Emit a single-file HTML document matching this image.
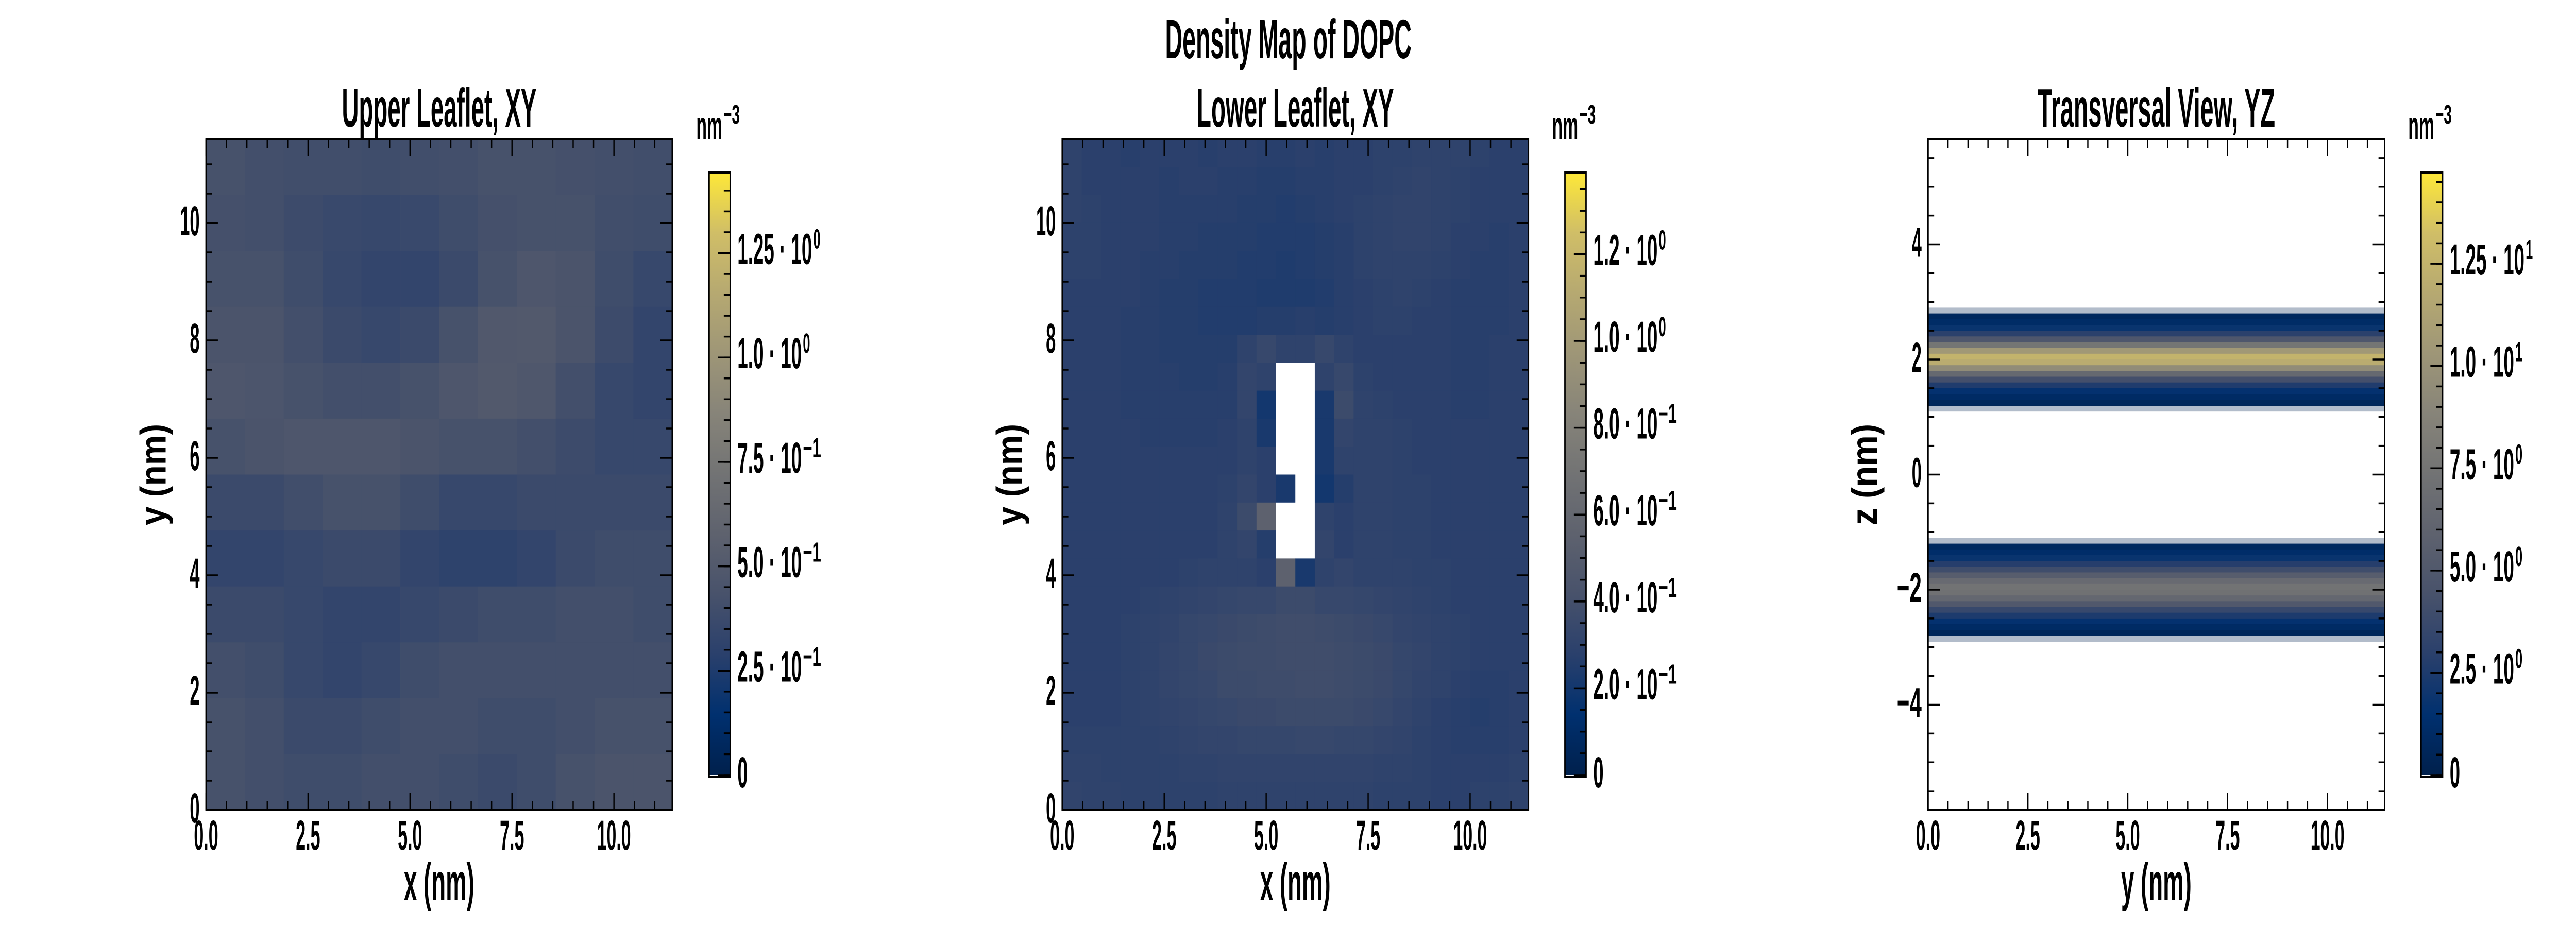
<!DOCTYPE html>
<html><head><meta charset="utf-8">
<style>
html,body{margin:0;padding:0;background:#fff;overflow:hidden;width:100%;height:100%;}
svg{display:block;width:100vw;height:100vh;}
text{font-family:"Liberation Sans Narrow","Liberation Sans",sans-serif;font-weight:bold;fill:#000;}
</style></head>
<body>
<svg id="fig" xmlns="http://www.w3.org/2000/svg" viewBox="0 0 7200 1800" preserveAspectRatio="none">
<rect x="0" y="0" width="7200" height="1800" fill="#fff"/>
<defs>
<linearGradient id="cividis" x1="0" y1="1" x2="0" y2="0">
<stop offset="0" stop-color="#00204c"/><stop offset="0.1" stop-color="#00306f"/><stop offset="0.2" stop-color="#2a406c"/><stop offset="0.3" stop-color="#48526b"/><stop offset="0.4" stop-color="#5e626e"/><stop offset="0.5" stop-color="#727374"/><stop offset="0.6" stop-color="#878479"/><stop offset="0.7" stop-color="#9e9677"/><stop offset="0.8" stop-color="#b6a971"/><stop offset="0.9" stop-color="#d0be67"/><stop offset="1" stop-color="#fee838"/>
</linearGradient>
</defs>
</svg>
<script>
// ---------- data ----------
// Upper leaflet coarse density grid (12x12, top row first), nm^-3
const upperRow0 = [.43,.41,.40,.40,.39,.40,.41,.43,.43,.42,.41,.40];
const upperRow1 = [.42,.41,.38,.36,.35,.36,.39,.42,.43,.43,.40,.39];
const upperRow2 = [.43,.43,.39,.35,.33,.33,.37,.43,.47,.45,.39,.35];
const upperRow3 = [.45,.45,.41,.37,.35,.37,.43,.49,.50,.45,.38,.33];
const upperRow4 = [.47,.46,.43,.41,.41,.43,.47,.50,.48,.41,.35,.33];
const upperRow5 = [.43,.45,.47,.47,.47,.45,.43,.43,.41,.38,.35,.35];
const upperRow6 = [.37,.37,.40,.43,.43,.39,.35,.35,.37,.37,.37,.37];
const upperRow7 = [.33,.33,.35,.37,.37,.33,.31,.31,.33,.37,.39,.39];
const upperRow8 = [.37,.37,.35,.33,.33,.35,.37,.39,.39,.41,.41,.39];
const upperRow9 = [.41,.39,.35,.33,.35,.39,.41,.41,.41,.41,.41,.41];
const upperRow10 = [.43,.41,.37,.37,.39,.41,.41,.39,.39,.41,.43,.43];
const upperRow11 = [.43,.41,.39,.39,.41,.41,.39,.37,.39,.43,.45,.45];
const upperGrid = [upperRow0,upperRow1,upperRow2,upperRow3,upperRow4,upperRow5,upperRow6,upperRow7,upperRow8,upperRow9,upperRow10,upperRow11];

// Lower leaflet coarse density grid (24x24, top row first), -1 = empty
const lowerRow0 = [.30,.28,.28,.27,.28,.28,.28,.27,.28,.28,.27,.27,.28,.27,.28,.28,.29,.29,.30,.30,.30,.29,.28,.28];
const lowerRow1 = [.30,.28,.28,.28,.28,.27,.28,.28,.27,.27,.26,.26,.27,.27,.28,.28,.29,.30,.31,.30,.29,.28,.28,.28];
const lowerRow2 = [.30,.29,.28,.28,.28,.27,.27,.27,.27,.26,.26,.25,.26,.27,.28,.29,.30,.31,.31,.30,.29,.28,.28,.28];
const lowerRow3 = [.29,.29,.28,.28,.28,.27,.27,.26,.26,.26,.25,.25,.25,.26,.27,.29,.30,.31,.31,.30,.28,.28,.27,.28];
const lowerRow4 = [.29,.29,.28,.28,.27,.27,.26,.26,.26,.25,.25,.24,.25,.26,.27,.29,.30,.30,.30,.29,.28,.27,.27,.28];
const lowerRow5 = [.28,.28,.28,.28,.27,.26,.26,.25,.25,.25,.24,.24,.24,.25,.27,.28,.29,.30,.29,.28,.27,.27,.27,.28];
const lowerRow6 = [.28,.28,.28,.27,.27,.26,.26,.25,.25,.25,.26,.26,.27,.26,.27,.28,.29,.29,.28,.28,.27,.27,.27,.28];
const lowerRow7 = [.28,.28,.28,.27,.27,.26,.26,.26,.26,.30,.34,.30,.30,.34,.30,.28,.28,.28,.28,.28,.27,.27,.28,.28];
const lowerRow8 = [.28,.28,.28,.27,.27,.27,.26,.26,.27,.32,.30,-1,-1,.30,.34,.29,.28,.28,.28,.28,.27,.27,.28,.28];
const lowerRow9 = [.28,.28,.28,.27,.27,.27,.27,.27,.27,.32,.20,-1,-1,.22,.36,.30,.29,.28,.28,.28,.27,.27,.28,.28];
const lowerRow10 = [.28,.28,.28,.28,.27,.27,.27,.27,.28,.30,.22,-1,-1,.22,.32,.30,.30,.29,.28,.28,.28,.28,.28,.28];
const lowerRow11 = [.28,.28,.28,.28,.28,.28,.28,.28,.28,.30,.28,-1,-1,.22,.30,.30,.30,.29,.28,.28,.28,.28,.28,.28];
const lowerRow12 = [.28,.28,.28,.28,.28,.28,.28,.28,.29,.32,.28,.22,-1,.20,.26,.30,.30,.29,.29,.28,.28,.28,.28,.28];
const lowerRow13 = [.28,.28,.28,.28,.28,.28,.28,.28,.30,.36,.55,-1,-1,.30,.28,.30,.30,.29,.29,.28,.28,.28,.28,.28];
const lowerRow14 = [.28,.28,.28,.28,.28,.28,.28,.28,.30,.32,.26,-1,-1,.32,.28,.30,.30,.29,.29,.28,.28,.28,.28,.28];
const lowerRow15 = [.28,.28,.28,.28,.28,.28,.29,.30,.30,.30,.28,.55,.22,.30,.32,.30,.30,.30,.29,.29,.28,.28,.28,.28];
const lowerRow16 = [.28,.28,.28,.28,.29,.30,.31,.32,.33,.34,.34,.36,.36,.34,.34,.33,.32,.31,.30,.29,.28,.28,.28,.28];
const lowerRow17 = [.28,.28,.28,.29,.30,.31,.33,.34,.35,.36,.37,.38,.38,.37,.36,.35,.34,.32,.31,.30,.29,.28,.28,.28];
const lowerRow18 = [.28,.28,.28,.29,.30,.32,.33,.35,.36,.37,.37,.38,.38,.38,.37,.36,.35,.33,.32,.30,.29,.28,.28,.28];
const lowerRow19 = [.28,.28,.28,.29,.30,.32,.33,.34,.36,.36,.37,.37,.38,.38,.37,.36,.35,.33,.31,.30,.28,.27,.27,.28];
const lowerRow20 = [.28,.28,.28,.29,.30,.31,.32,.33,.34,.35,.35,.36,.36,.36,.36,.35,.34,.32,.30,.28,.27,.26,.27,.28];
const lowerRow21 = [.29,.29,.29,.29,.29,.30,.31,.32,.32,.33,.33,.33,.34,.34,.33,.33,.32,.31,.29,.28,.27,.27,.27,.28];
const lowerRow22 = [.30,.30,.29,.29,.29,.29,.30,.30,.31,.31,.31,.31,.31,.31,.31,.31,.30,.30,.29,.28,.28,.28,.28,.29];
const lowerRow23 = [.31,.30,.30,.29,.29,.29,.29,.29,.30,.30,.30,.30,.30,.30,.30,.30,.29,.29,.29,.28,.28,.29,.29,.30];
const lowerGrid = [lowerRow0,lowerRow1,lowerRow2,lowerRow3,lowerRow4,lowerRow5,lowerRow6,lowerRow7,lowerRow8,lowerRow9,lowerRow10,lowerRow11,lowerRow12,lowerRow13,lowerRow14,lowerRow15,lowerRow16,lowerRow17,lowerRow18,lowerRow19,lowerRow20,lowerRow21,lowerRow22,lowerRow23];

// Transversal (YZ) density profile along z (bin centers, nm) – uniform along y
const zBins = [2.85,2.75,2.65,2.55,2.45,2.35,2.25,2.15,2.05,1.95,1.85,1.75,1.65,1.55,1.45,1.35,1.25,1.15,
               -1.15,-1.25,-1.35,-1.45,-1.55,-1.65,-1.75,-1.85,-1.95,-2.05,-2.15,-2.25,-2.35,-2.45,-2.55,-2.65,-2.75,-2.85];
const zDensity = [0.15,0.7,1.1,1.8,3.0,4.8,7.5,10.5,12.5,12.0,9.5,6.5,4.2,2.6,1.6,1.0,0.6,0.15,
                  0.15,0.8,1.2,1.8,2.8,4.0,5.4,6.6,7.4,7.2,6.3,5.0,3.6,2.5,1.6,1.0,0.6,0.15];

// axis tick labels
const xTickVals = [0,2.5,5,7.5,10];
const xTickLabels = ["0.0","2.5","5.0","7.5","10.0"];
const yTickVals = [0,2,4,6,8,10];
const yTickLabels = ["0","2","4","6","8","10"];
const zTickVals = [-4,-2,0,2,4];
const zTickLabels = ["\u22124","\u22122","0","2","4"];
// colorbar ticks
const cb1Vals = [0,0.25,0.5,0.75,1.0,1.25];
const cb1Main = ["0","2.5 \u00b7 10","5.0 \u00b7 10","7.5 \u00b7 10","1.0 \u00b7 10","1.25 \u00b7 10"];
const cb1Exp = ["","\u22121","\u22121","\u22121","0","0"];
const cb2Vals = [0,0.2,0.4,0.6,0.8,1.0,1.2];
const cb2Main = ["0","2.0 \u00b7 10","4.0 \u00b7 10","6.0 \u00b7 10","8.0 \u00b7 10","1.0 \u00b7 10","1.2 \u00b7 10"];
const cb2Exp = ["","\u22121","\u22121","\u22121","\u22121","0","0"];
const cb3Vals = [0,2.5,5,7.5,10,12.5];
const cb3Main = ["0","2.5 \u00b7 10","5.0 \u00b7 10","7.5 \u00b7 10","1.0 \u00b7 10","1.25 \u00b7 10"];
const cb3Exp = ["","0","0","0","1","1"];

// ---------- helpers ----------
const NS = "http://www.w3.org/2000/svg";
const svg = document.getElementById("fig");
const stops = [[0,0x00,0x20,0x4c],[0.1,0x00,0x30,0x6f],[0.2,0x2a,0x40,0x6c],[0.3,0x48,0x52,0x6b],[0.4,0x5e,0x62,0x6e],[0.5,0x72,0x73,0x74],[0.6,0x87,0x84,0x79],[0.7,0x9e,0x96,0x77],[0.8,0xb6,0xa9,0x71],[0.9,0xd0,0xbe,0x67],[1,0xfe,0xe8,0x38]];
function cividis(t){
  t=Math.max(0,Math.min(1,t));
  for(let i=1;i<stops.length;i++){
    if(t<=stops[i][0]){
      const a=stops[i-1],b=stops[i],f=(t-a[0])/(b[0]-a[0]);
      const c=k=>Math.round(a[k]+(b[k]-a[k])*f);
      return "rgb("+c(1)+","+c(2)+","+c(3)+")";
    }
  }
  return "#fee838";
}
function mk(tag,attrs,parent){
  const e=document.createElementNS(NS,tag);
  for(const k in attrs) e.setAttribute(k,attrs[k]);
  (parent||svg).appendChild(e);
  return e;
}
function tw(s,scale){
  let w=0;
  for(const ch of s){
    if(ch>="0"&&ch<="9") w+=29;
    else if(ch===".") w+=16;
    else if(ch===" ") w+=17;
    else if(ch==="\u00b7") w+=14;
    else if(ch==="\u2212") w+=44;
    else w+=30;
  }
  return w*(scale||1);
}
function txt(x,y,s,size,anchor,len,name){
  const e=mk("text",{x:x,y:y,"font-size":size,"text-anchor":anchor||"start",textLength:len,lengthAdjust:"spacingAndGlyphs"});
  e.textContent=s;
  
  
  return e;
}

// ---------- panels ----------
const AX_T=270, AX_H=1303, AX_B=AX_T+AX_H;
const panels=[
 {id:"upper-leaflet",left:576,w:1303,xr:[0,11.43],yr:[0,11.43],cbL:1982,cbR:2041,vmax:1.443,
  title:"Upper Leaflet, XY",titleW:544,xl:"x (nm)",yl:"y (nm)",ylOff:113,
  cbVals:cb1Vals,cbMain:cb1Main,cbExp:cb1Exp,cbMinor:0.05,yT:yTickVals,yL:yTickLabels,yMinor:0.5},
 {id:"lower-leaflet",left:2969,w:1303,xr:[0,11.43],yr:[0,11.43],cbL:4374,cbR:4433,vmax:1.388,
  title:"Lower Leaflet, XY",titleW:551,xl:"x (nm)",yl:"y (nm)",ylOff:113,
  cbVals:cb2Vals,cbMain:cb2Main,cbExp:cb2Exp,cbMinor:0.05,yT:yTickVals,yL:yTickLabels,yMinor:0.5},
 {id:"transversal-view",left:5389,w:1276,xr:[0,11.43],yr:[-5.83,5.83],cbL:6767,cbR:6827,vmax:14.73,
  title:"Transversal View, YZ",titleW:664,xl:"y (nm)",yl:"z (nm)",ylOff:143,
  cbVals:cb3Vals,cbMain:cb3Main,cbExp:cb3Exp,cbMinor:0.5,yT:zTickVals,yL:zTickLabels,yMinor:0.5}
];

function drawGrid(p,grid){
  const g=mk("g",{});
  
  
  const rows=grid.length, cols=grid[0].length;
  const xs=v=>p.left+(v-p.xr[0])/(p.xr[1]-p.xr[0])*p.w;
  const ys=v=>AX_B-(v-p.yr[0])/(p.yr[1]-p.yr[0])*AX_H;
  const dx=(p.xr[1]-p.xr[0])/cols, dy=(p.yr[1]-p.yr[0])/rows;
  for(let r=0;r<rows;r++){
    for(let c=0;c<cols;c++){
      const v=grid[r][c];
      const x0=xs(p.xr[0]+c*dx), x1=xs(p.xr[0]+(c+1)*dx);
      const y1=ys(p.yr[1]-r*dy), y0=ys(p.yr[1]-(r+1)*dy);
      const cell=mk("rect",{x:x0.toFixed(2),y:y1.toFixed(2),width:(x1-x0+0.6).toFixed(2),height:(y0-y1+0.6).toFixed(2),fill:v<0?"#ffffff":cividis(v/p.vmax)},g);
      
      
    }
  }
}
function drawProfile(p){
  const g=mk("g",{});
  
  
  const ys=v=>AX_B-(v-p.yr[0])/(p.yr[1]-p.yr[0])*AX_H;
  for(let i=0;i<zBins.length;i++){
    const v=zDensity[i];
    const yTop=ys(zBins[i]+0.05), yBot=ys(zBins[i]-0.05);
    const band=mk("rect",{x:p.left,y:yTop.toFixed(2),width:p.w,height:(yBot-yTop+0.6).toFixed(2),fill:cividis(v/p.vmax),"fill-opacity":v<0.3?0.3:1},g);
    
    
  }
}

function drawAxes(p){
  const xs=v=>p.left+(v-p.xr[0])/(p.xr[1]-p.xr[0])*p.w;
  const ys=v=>AX_B-(v-p.yr[0])/(p.yr[1]-p.yr[0])*AX_H;
  const g=mk("g",{stroke:"#000","stroke-width":3.5});
  
  
  for(let v=p.xr[0];v<=p.xr[1]+1e-6;v+=0.5){
    const major=Math.abs(v/2.5-Math.round(v/2.5))<1e-6;
    const L=major?33:17, x=xs(v);
    mk("line",{x1:x,y1:AX_B,x2:x,y2:AX_B-L},g);
    mk("line",{x1:x,y1:AX_T,x2:x,y2:AX_T+L},g);
  }
  const y0=Math.ceil(p.yr[0]/p.yMinor)*p.yMinor;
  for(let v=y0;v<=p.yr[1]+1e-6;v+=p.yMinor){
    const major=Math.abs(v/2-Math.round(v/2))<1e-6;
    const L=major?33:17, y=ys(v);
    mk("line",{x1:p.left,y1:y,x2:p.left+L,y2:y},g);
    mk("line",{x1:p.left+p.w,y1:y,x2:p.left+p.w-L,y2:y},g);
  }
  const fr=mk("rect",{x:p.left,y:AX_T,width:p.w,height:AX_H,fill:"none",stroke:"#000","stroke-width":4});
  
  
  xTickVals.forEach((v,i)=>{ txt(xs(v),1650,xTickLabels[i],82,"middle",tw(xTickLabels[i],0.92),"x-tick-label"); });
  p.yT.forEach((v,i)=>{ txt(p.left-18,ys(v)+24,p.yL[i],82,"end",tw(p.yL[i],0.95),"y-tick-label"); });
  const cx=p.left+p.w/2;
  txt(cx,246,p.title,106,"middle",p.titleW,p.id+"-title");
  txt(cx,1748,p.xl,102,"middle",197,"x-axis-title");
  const yl=txt(0,0,p.yl,102,"middle",197,"y-axis-title");
  yl.setAttribute("transform","translate("+(p.left-p.ylOff)+","+(AX_T+AX_H/2)+") rotate(-90)");
}

function drawColorbar(p){
  const CB_T=335, CB_B=1509, ZERO=1505;
  const cs=v=>ZERO-(v/p.vmax)*(ZERO-CB_T);
  const g=mk("g",{});
  
  
  mk("rect",{x:p.cbL,y:CB_T,width:p.cbR-p.cbL,height:ZERO-CB_T,fill:"url(#cividis)"},g);
  mk("rect",{x:p.cbL,y:ZERO,width:p.cbR-p.cbL,height:CB_B-ZERO,fill:"#fff"},g);
  for(let v=0;v<=p.vmax+1e-6;v+=p.cbMinor){
    const y=cs(v);
    mk("line",{x1:p.cbR,y1:y,x2:p.cbR-18,y2:y,stroke:"#000","stroke-width":3.5},g);
  }
  p.cbVals.forEach(v=>{ const y=cs(v); mk("line",{x1:p.cbR,y1:y,x2:p.cbR-34,y2:y,stroke:"#000","stroke-width":3.5},g); });
  mk("rect",{x:p.cbL,y:CB_T,width:p.cbR-p.cbL,height:CB_B-CB_T,fill:"none",stroke:"#000","stroke-width":4},g);
  p.cbVals.forEach((v,i)=>{
    const y=cs(v);
    const m=p.cbMain[i];
    const w=tw(m,1);
    const base = v===0 ? y+24 : y+21;
    txt(p.cbR+20,base,m,84,"start",w,"colorbar-tick-label");
    if(p.cbExp[i]) txt(p.cbR+20+w+3,base-30,p.cbExp[i],54,"start",tw(p.cbExp[i],0.7),"colorbar-tick-exponent");
  });
  txt(p.cbL-36,270,"nm",76,"start",73,"colorbar-unit-label");
  txt(p.cbL+40,240,"\u22123",52,"start",46,"colorbar-unit-exponent");
}

drawGrid(panels[0],upperGrid);
drawGrid(panels[1],lowerGrid);
drawProfile(panels[2]);
panels.forEach(p=>{drawAxes(p);drawColorbar(p);});
txt(3601,113,"Density Map of DOPC",108,"middle",689,"figure-title");
</script>
</body></html>
